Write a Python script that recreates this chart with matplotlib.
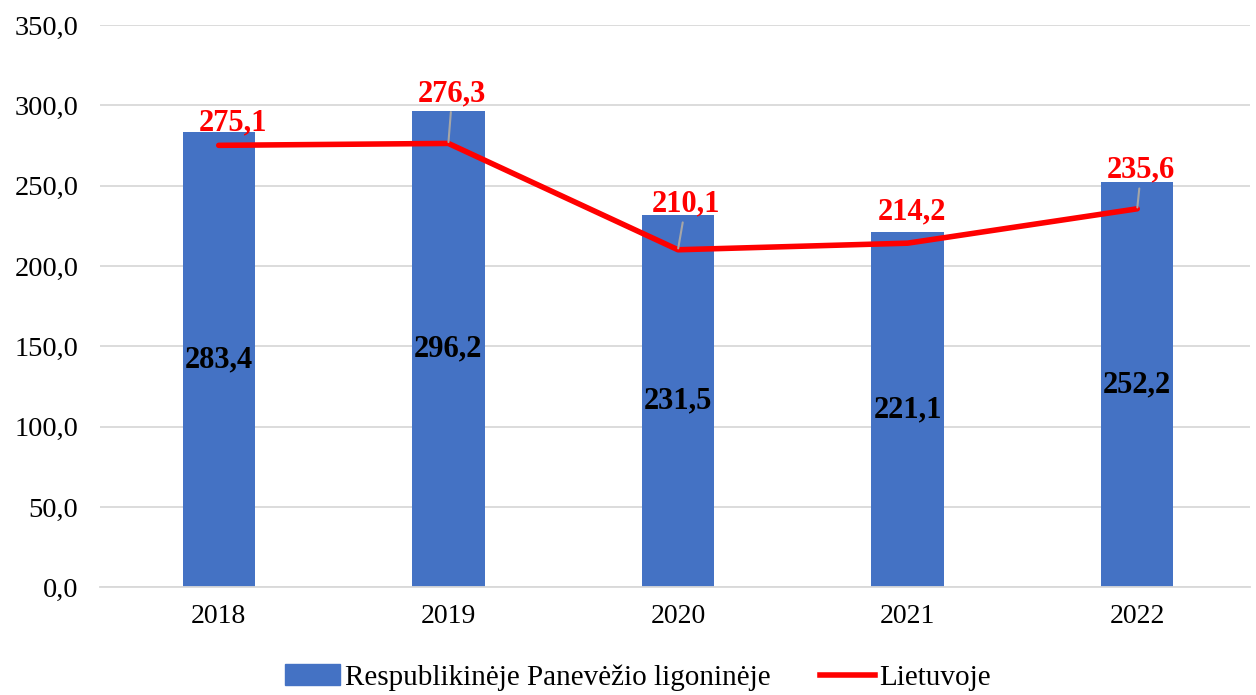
import matplotlib.pyplot as plt
import numpy as np
from matplotlib.patches import Patch
from matplotlib.lines import Line2D

plt.rcParams['font.family'] = ['Liberation Serif', 'DejaVu Serif']

# Datos
years = ["2018", "2019", "2020", "2021", "2022"]
ligonine = [283.4, 296.2, 231.5, 221.1, 252.2]
lietuva = [275.1, 276.3, 210.1, 214.2, 235.6]
y_ticks = [0, 50, 100, 150, 200, 250, 300, 350]

series_bar = "Respublikinėje Panevėžio ligoninėje"
series_line = "Lietuvoje"

BLUE = "#4472C4"
RED = "#FF0000"


def fmt(v):
    return f"{v:.1f}".replace(".", ",")


fig = plt.figure(figsize=(12.56, 6.95), dpi=100)
ax = fig.add_axes([0.080, 0.155, 0.915, 0.809])

x = np.arange(len(years))
ax.bar(x, ligonine, width=0.315, color=BLUE, zorder=2)
ax.plot(x, lietuva, color=RED, linewidth=4.0, solid_capstyle='round',
        solid_joinstyle='round', zorder=4)

# Etiquetas de las barras (centradas)
for xi, v in zip(x, ligonine):
    ax.text(xi, v / 2, fmt(v), ha='center', va='center', fontsize=22,
            fontweight='bold', color='black', zorder=5)

# Etiquetas de la línea: offsets en px (dx, dy) y si llevan línea guía
offsets_px = [(14, 22), (4, 50), (8, 46), (4, 31), (4, 39)]
leaders = [False, True, True, False, True]
for xi, v, (dx, dy), lead in zip(x, lietuva, offsets_px, leaders):
    arrow = None
    if lead:
        arrow = dict(arrowstyle='-', color='#a6a6a6', lw=1.5,
                     shrinkA=1, shrinkB=1)
    ax.annotate(fmt(v), (xi, v), textcoords='offset points',
                xytext=(dx * 0.72, dy * 0.72), ha='center', va='center',
                fontsize=22, fontweight='bold', color=RED,
                arrowprops=arrow, zorder=5)

ax.set_xlim(-0.515, 4.49)
ax.set_ylim(0, 350)
ax.set_xticks(x)
ax.set_xticklabels(years, fontsize=20)
ax.set_yticks(y_ticks)
ax.set_yticklabels([fmt(t) for t in y_ticks], fontsize=20.5)
ax.tick_params(axis='both', length=0)
ax.tick_params(axis='y', pad=16)
ax.tick_params(axis='x', pad=12)

ax.grid(axis='y', color='#d9d9d9', linewidth=1.3, zorder=0)
ax.set_axisbelow(True)
for side in ['top', 'right', 'left']:
    ax.spines[side].set_visible(False)
ax.spines['bottom'].set_color('#d9d9d9')
ax.spines['bottom'].set_linewidth(1.3)

handles = [Patch(facecolor=BLUE, edgecolor=BLUE, label=series_bar),
           Line2D([0], [0], color=RED, linewidth=4.0, label=series_line)]
fig.legend(handles=handles, loc='center', bbox_to_anchor=(0.508, 0.025),
           ncol=2, frameon=False, fontsize=21, handlelength=1.9,
           handletextpad=0.15, columnspacing=1.7)

fig.savefig("out.png", dpi=100)
